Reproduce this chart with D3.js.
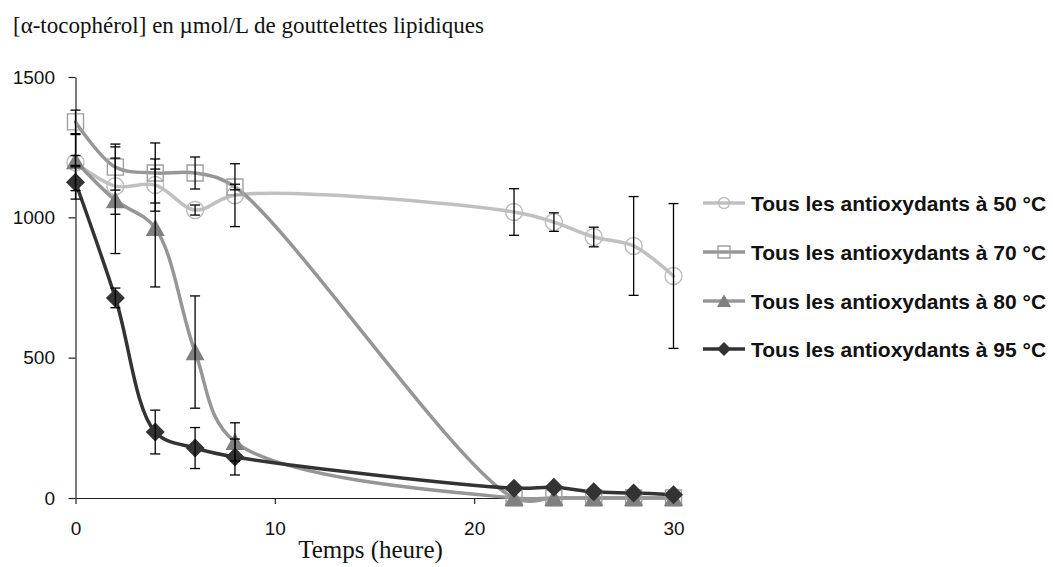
<!DOCTYPE html>
<html><head><meta charset="utf-8">
<script src="https://cdn.jsdelivr.net/npm/d3@7"></script>
<style>body{margin:0;background:#fff;} svg{display:block;}</style>
</head><body>
<script>
// ---- data ----
const hours = [0, 2, 4, 6, 8, 22, 24, 26, 28, 30];
const seriesNames = ["Tous les antioxydants à 50 °C", "Tous les antioxydants à 70 °C", "Tous les antioxydants à 80 °C", "Tous les antioxydants à 95 °C"];
const vals50 = [1195, 1111, 1115, 1026, 1079, 1019, 983, 930, 898, 791];
const err50  = [100, 100, 93, 18, 112, 83, 33, 35, 176, 258];
const vals70 = [1340, 1179, 1158, 1158, 1108, 0, 0, 0, 0, 0];
const err70  = [42, 82, 107, 57, 10, 0, 0, 0, 0, 0];
const vals80 = [1200, 1061, 962, 520, 200, 0, 0, 0, 0, 0];
const err80  = [20, 190, 210, 200, 68, 0, 0, 0, 0, 0];
const vals95 = [1125, 713, 235, 178, 146, 35, 38, 22, 18, 12];
const err95  = [60, 35, 78, 73, 64, 0, 0, 0, 0, 0];
const xTicks = [0, 10, 20, 30];
const yTicks = [0, 500, 1000, 1500];
const titleText = "[α-tocophérol] en µmol/L de gouttelettes lipidiques";
const xTitle = "Temps (heure)";

// ---- styles ----
const styles = [
  {line:"#c0c0c0", shape:"circle",  stroke:"#bcbcbc", fill:"none"},
  {line:"#969696", shape:"square",  stroke:"#a0a0a0", fill:"none"},
  {line:"#969696", shape:"triangle",stroke:"none",    fill:"#808080"},
  {line:"#333333", shape:"diamond", stroke:"none",    fill:"#333333"}
];
const allVals = [vals50, vals70, vals80, vals95];
const allErr = [err50, err70, err80, err95];

const W = 1053, H = 567;
const svg = d3.select("body").append("svg").attr("width", W).attr("height", H);

const x = d3.scaleLinear().domain([0, 30]).range([75.5, 673.5]);
const y = d3.scaleLinear().domain([0, 1500]).range([498, 77]);

function markerPath(shape, s) {
  const h = s / 2;
  if (shape === "circle") return d3.arc()({innerRadius:0, outerRadius:h, startAngle:0, endAngle:2*Math.PI});
  if (shape === "square") return `M${-h},${-h}H${h}V${h}H${-h}Z`;
  if (shape === "triangle") return `M0,${-h*0.95}L${h},${h*0.85}L${-h},${h*0.85}Z`;
  return `M0,${-h}L${h},0L0,${h}L${-h},0Z`;
}
const markerSize = {circle:17, square:16, triangle:19, diamond:19};
const legendSize = {circle:11, square:12, triangle:14, diamond:14};

// title
svg.append("text").attr("x", 13).attr("y", 33)
  .attr("font-family", "'Liberation Serif','Times New Roman',serif").attr("font-size", 23)
  .attr("fill", "#111").text(titleText);

// axes
const yAxis = d3.axisLeft(y).tickValues(yTicks).tickFormat(d3.format("d")).tickSize(7).tickSizeOuter(0).tickPadding(13.5);
const gy = svg.append("g").attr("transform", `translate(${x(0)},0)`).call(yAxis);
const xAxis = d3.axisBottom(x).tickValues(xTicks).tickFormat(d3.format("d")).tickSize(6).tickSizeOuter(0).tickPadding(18);
const gx = svg.append("g").attr("transform", `translate(0,${y(0)})`).call(xAxis);
[gx, gy].forEach(g => {
  g.select(".domain").attr("stroke", "#222").attr("stroke-width", 1.2);
  g.selectAll(".tick line").attr("stroke", "#222").attr("stroke-width", 1.2);
  g.selectAll(".tick text").attr("font-family", "'Liberation Sans',Arial,sans-serif")
    .attr("font-size", 19).attr("fill", "#111");
});

svg.append("text").attr("x", (x(0) + x(30)) / 2 - 4).attr("y", 558).attr("text-anchor", "middle")
  .attr("font-family", "'Liberation Serif','Times New Roman',serif").attr("font-size", 25)
  .attr("fill", "#111").text(xTitle);

// lines
const line = d3.line().x(d => x(d[0])).y(d => y(d[1])).curve(d3.curveCatmullRom.alpha(0.5));
allVals.forEach((vals, i) => {
  svg.append("path").datum(hours.map((h, j) => [h, vals[j]]))
    .attr("d", line).attr("fill", "none").attr("stroke", styles[i].line)
    .attr("stroke-width", 3.5).attr("stroke-linejoin", "round").attr("stroke-linecap", "round");
});
// markers
allVals.forEach((vals, i) => {
  const st = styles[i];
  svg.append("g").selectAll("path").data(hours.map((h, j) => [h, vals[j]])).join("path")
    .attr("transform", d => `translate(${x(d[0])},${y(d[1])})`)
    .attr("d", markerPath(st.shape, markerSize[st.shape]))
    .attr("fill", st.fill).attr("stroke", st.stroke).attr("stroke-width", 1.4);
});
// error bars
allVals.forEach((vals, i) => {
  const errs = allErr[i];
  const data = hours.map((h, j) => ({h, v: vals[j], e: errs[j]})).filter(d => d.e > 0);
  const g = svg.append("g").attr("stroke", "#000").attr("stroke-width", 1.3);
  data.forEach(d => {
    const cx = x(d.h);
    g.append("line").attr("x1", cx).attr("x2", cx).attr("y1", y(d.v + d.e)).attr("y2", y(d.v - d.e));
    g.append("line").attr("x1", cx - 5).attr("x2", cx + 5).attr("y1", y(d.v + d.e)).attr("y2", y(d.v + d.e));
    g.append("line").attr("x1", cx - 5).attr("x2", cx + 5).attr("y1", y(d.v - d.e)).attr("y2", y(d.v - d.e));
  });
});

// legend
const legendY = [203, 252, 301, 349];
seriesNames.forEach((name, i) => {
  const st = styles[i];
  const g = svg.append("g").attr("transform", `translate(0,${legendY[i]})`);
  g.append("line").attr("x1", 703).attr("x2", 745).attr("y1", 0).attr("y2", 0)
    .attr("stroke", st.line).attr("stroke-width", 3.5);
  g.append("path").attr("transform", "translate(724,0)")
    .attr("d", markerPath(st.shape, legendSize[st.shape]))
    .attr("fill", st.fill).attr("stroke", st.stroke).attr("stroke-width", 1.4);
  g.append("text").attr("x", 751).attr("y", 0).attr("dy", "0.36em")
    .attr("font-family", "'Liberation Sans',Arial,sans-serif").attr("font-weight", "bold")
    .attr("font-size", 21).attr("fill", "#111").text(name);
});
</script>
</body></html>
